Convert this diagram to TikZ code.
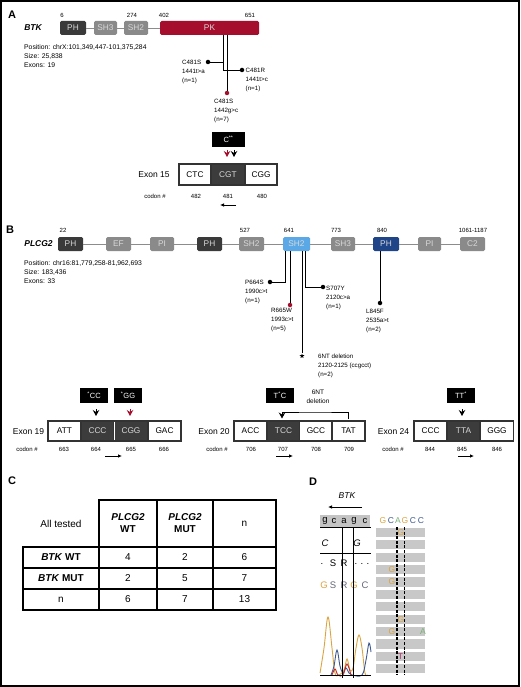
\documentclass[tikz,border=0pt]{standalone}
\usepackage{fontspec}
\setmainfont{Liberation Sans}
\usetikzlibrary{arrows.meta,shapes.geometric}

\definecolor{domdark}{HTML}{3A3A3A}
\definecolor{domgrey}{HTML}{8A8A8A}
\definecolor{pkred}{HTML}{A50E2D}
\definecolor{sh2blue}{HTML}{5AA9E6}
\definecolor{phnavy}{HTML}{1F4488}
\definecolor{linkgrey}{HTML}{8C8C8C}
\definecolor{codondark}{HTML}{3C3C3C}
\definecolor{seqgrey}{HTML}{C4C4C4}
\definecolor{rowgrey}{HTML}{C8C8C8}
\definecolor{basegold}{HTML}{D9A441}
\definecolor{baseblue}{HTML}{3E5B8F}
\definecolor{basegreen}{HTML}{7AB07A}
\definecolor{basered}{HTML}{C0282A}
\definecolor{basepink}{HTML}{B0306A}
\definecolor{baseslate}{HTML}{66667A}

\tikzset{
  dombox/.style={shape=rectangle, rounded corners=1.5pt, minimum width=25pt, minimum height=14pt, inner sep=0pt, text=white!85!black, font=\fontsize{8.3}{8}\selectfont},
  dark/.style={dombox, fill=domdark},
  grey/.style={dombox, fill=domgrey},
  link/.style={draw=linkgrey, line width=0.9pt},
  num/.style={font=\fontsize{6}{6}\selectfont, inner sep=0pt},
  info/.style={align=left, anchor=north west, inner sep=0pt, font=\fontsize{6.8}{9}\selectfont},
  mut/.style={align=left, anchor=north west, inner sep=0pt, font=\fontsize{6.2}{9}\selectfont},
  stem/.style={draw=black, line width=0.9pt},
  dot/.style={shape=circle, fill=black, minimum size=4.5pt, inner sep=0pt},
  reddot/.style={dot, fill=pkred},
  tag/.style={fill=black, text=white, minimum width=28pt, minimum height=15pt, inner sep=0pt, font=\fontsize{7.5}{8}\selectfont},
  codon/.style={draw=black!80, line width=1.2pt, fill=white, minimum width=33pt, minimum height=20pt, inner sep=0pt, font=\fontsize{8.3}{9}\selectfont},
  hot/.style={codon, fill=codondark, text=white!85!black},
  exon/.style={font=\fontsize{8.5}{9}\selectfont, inner sep=0pt},
  cnum/.style={font=\fontsize{6}{6}\selectfont, inner sep=0pt},
  vtip/.style={-{Stealth[length=6pt,width=6.5pt,inset=2pt]}, line width=0.8pt},
  sense/.style={-{Latex[length=4pt,width=3.6pt]}, line width=0.8pt},
  panel/.style={font=\fontsize{11}{11}\selectfont\bfseries, inner sep=0pt},
  gene/.style={font=\fontsize{8.5}{9}\selectfont\bfseries\itshape, inner sep=0pt},
  cell/.style={draw=black, line width=1.3pt, minimum height=21pt, inner sep=0pt, align=center, font=\fontsize{10}{12}\selectfont},
  seq/.style={inner sep=0pt, font=\fontsize{9.5}{9}\selectfont},
  read/.style={inner sep=0pt, font=\fontsize{8.5}{8}\selectfont},
}

\begin{document}
\begin{tikzpicture}[x=1pt,y=-1pt]
    \useasboundingbox (0,0) rectangle (520,687);
    \draw[line width=1.6pt] (1,1) rectangle (519,686);

    % panel A: BTK
    \node[panel] (A) at (12,15) {A};
    \node[gene] (btk) at (33,28) {BTK};
    \node[num] (a6) at (62,15) {6};
    \node[num] (a274) at (132,15) {274};
    \node[num] (a402) at (164,15) {402};
    \node[num] (a651) at (250,15) {651};
    \node[dark, minimum width=26pt] (aph) at (73,28) {PH};
    \node[grey, minimum width=23pt] (ash3) at (105.5,28) {SH3};
    \node[grey, minimum width=24pt] (ash2) at (136,28) {SH2};
    \node[dombox, fill=pkred, minimum width=99pt] (apk) at (209.5,28) {PK};
    \draw[link] (aph) -- (ash3);
    \draw[link] (ash3) -- (ash2);
    \draw[link] (ash2) -- (apk);
    \node[info] (apos) at (24,44.5) {Position: chrX:101,349,447-101,375,284\\Size: 25,838\\Exons: 19};

    \node[dot] (m1) at (208,62) {};
    \node[dot] (m2) at (242,70) {};
    \node[reddot] (m3) at (227,93) {};
    \coordinate (as1) at (223,35);
    \coordinate (as2) at (227,35);
    \draw[stem] (as1) |- (m2);
    \draw[stem] (m1) -- (m1 -| as1);
    \draw[stem] (as2) -- (m3);
    \node[mut] (lm1) at (182,59.7) {C481S\\1441t>a\\(n=1)};
    \node[mut] (lm2) at (245.5,67.7) {C481R\\1441t>c\\(n=1)};
    \node[mut] (lm3) at (214,98.7) {C481S\\1442g>c\\(n=7)};

    \node[tag, minimum width=33pt] (tagA) at (228.5,139.5) {C\textsuperscript{**}};
    \coordinate (tipA1) at (227,150);
    \coordinate (tipA2) at (234,150);
    \draw[vtip, draw=pkred, fill=pkred] (tipA1) -- ++(0,7);
    \draw[vtip] (tipA2) -- ++(0,7);
    \node[exon] (ex15) at (154,175) {Exon 15};
    \node[codon, minimum width=32pt, minimum height=21pt] (c482) at (195,174.5) {CTC};
    \node[hot, minimum width=34pt, minimum height=21pt] (c481) at (228,174.5) {CGT};
    \node[codon, minimum width=32pt, minimum height=21pt] (c480) at (261,174.5) {CGG};
    \node[cnum] (cA) at (155,196) {codon \#};
    \node[cnum] (n482) at (196,196) {482};
    \node[cnum] (n481) at (228,196) {481};
    \node[cnum] (n480) at (262,196) {480};
    \coordinate (arA1) at (236,205);
    \coordinate (arA2) at (220,205);
    \draw[sense] (arA1) -- (arA2);

    % panel B: PLCG2
    \node[panel] (B) at (10,230) {B};
    \node[gene] (plcg) at (38.5,243.5) {PLCG2};
    \node[num] (b22) at (63,230) {22};
    \node[num] (b527) at (245,230) {527};
    \node[num] (b641) at (289,230) {641};
    \node[num] (b773) at (336,230) {773};
    \node[num] (b840) at (382,230) {840};
    \node[num] (b1061) at (473,230) {1061-1187};
    \node[dark] (bph1) at (70.5,244) {PH};
    \node[grey] (bef) at (118.5,244) {EF};
    \node[grey, minimum width=24pt] (bpi1) at (162,244) {PI};
    \node[dark] (bph2) at (209.5,244) {PH};
    \node[grey] (bsh2a) at (251.5,244) {SH2};
    \node[dombox, fill=sh2blue, minimum width=27pt] (bsh2b) at (296.5,244) {SH2};
    \node[grey, minimum width=24pt] (bsh3) at (343,244) {SH3};
    \node[dombox, fill=phnavy, minimum width=26pt] (bph3) at (386,244) {PH};
    \node[grey, minimum width=23pt] (bpi2) at (429.5,244) {PI};
    \node[grey] (bc2) at (472.5,244) {C2};
    \draw[link] (bph1) -- (bef);
    \draw[link] (bef) -- (bpi1);
    \draw[link] (bpi1) -- (bph2);
    \draw[link] (bph2) -- (bsh2a);
    \draw[link] (bsh2a) -- (bsh2b);
    \draw[link] (bsh2b) -- (bsh3);
    \draw[link] (bsh3) -- (bph3);
    \draw[link] (bph3) -- (bpi2);
    \draw[link] (bpi2) -- (bc2);
    \node[info] (bpos) at (24,260.5) {Position: chr16:81,779,258-81,962,693\\Size: 183,436\\Exons: 33};

    \node[dot] (d664) at (270,282) {};
    \node[reddot] (d665) at (290,305) {};
    \node[dot] (d707) at (323,287) {};
    \node[dot] (d845) at (380,303) {};
    \node[star, star points=5, star point ratio=2.3, fill=black, minimum size=5pt, inner sep=0pt] (ddel) at (302,356) {};
    \coordinate (bs1) at (285,251);
    \coordinate (bs2) at (290,251);
    \coordinate (bs3) at (302,251);
    \coordinate (bs4) at (305.5,251);
    \coordinate (bs5) at (380,251);
    \draw[stem] (bs1) |- (d664);
    \draw[stem] (bs2) -- (d665);
    \draw[stem] (bs3) -- (ddel);
    \draw[stem] (bs4) |- (d707);
    \draw[stem] (bs5) -- (d845);
    \node[mut] (l664) at (245,279.7) {P664S\\1990c>t\\(n=1)};
    \node[mut] (l665) at (271,307.7) {R665W\\1993c>t\\(n=5)};
    \node[mut] (l707) at (326,285.7) {S707Y\\2120c>a\\(n=1)};
    \node[mut] (l845) at (366,308.7) {L845F\\2535a>t\\(n=2)};
    \node[mut] (ldel) at (318,353.7) {6NT deletion\\2120-2125 (ccgcct)\\(n=2)};

    % exons 19, 20, 24
    \node[tag] (tag19a) at (94,395.5) {\textsuperscript{*}CC};
    \node[tag] (tag19b) at (128,395.5) {\textsuperscript{*}GG};
    \node[tag] (tag20) at (280,395.5) {T\textsuperscript{*}C};
    \node[tag] (tag24) at (461,395.5) {TT\textsuperscript{*}};
    \coordinate (tip19a) at (96,409);
    \coordinate (tip19b) at (130,409);
    \coordinate (tip24) at (462,409);
    \draw[vtip] (tip19a) -- ++(0,7);
    \draw[vtip, draw=pkred, fill=pkred] (tip19b) -- ++(0,7);
    \draw[vtip] (tip24) -- ++(0,7);
    \coordinate (del20r) at (348,419);
    \coordinate (del20m) at (315,412);
    \coordinate (del20l) at (282,418.5);
    \draw[vtip] (del20r) |- (del20m) -| (del20l);
    \node[mut, anchor=center, align=center, font=\fontsize{6.5}{9}\selectfont] (del20t) at (318,396.5) {6NT\\deletion};

    \node[exon] (ex19) at (28.5,432) {Exon 19};
    \node[codon] (c663) at (64.5,431) {ATT};
    \node[hot] (c664) at (97.5,431) {CCC};
    \node[hot] (c665) at (131,431) {CGG};
    \node[codon] (c666) at (164.5,431) {GAC};
    \draw[white, line width=0.8pt] ([yshift=-1.2pt]c664.north east) -- ([yshift=1.2pt]c664.south east);
    \node[exon] (ex20) at (214,432) {Exon 20};
    \node[codon] (c706) at (250.5,431) {ACC};
    \node[hot] (c707) at (283.5,431) {TCC};
    \node[codon] (c708) at (316,431) {GCC};
    \node[codon] (c709) at (348.5,431) {TAT};
    \node[exon] (ex24) at (393.5,432) {Exon 24};
    \node[codon] (c844) at (430.5,431) {CCC};
    \node[hot] (c845) at (463.5,431) {TTA};
    \node[codon] (c846) at (497,431) {GGG};

    \node[cnum] (c19) at (27,449) {codon \#};
    \node[cnum] (n663) at (64,449) {663};
    \node[cnum] (n664) at (96,449) {664};
    \node[cnum] (n665) at (131,449) {665};
    \node[cnum] (n666) at (164,449) {666};
    \node[cnum] (c20) at (217,449) {codon \#};
    \node[cnum] (n706) at (251,449) {706};
    \node[cnum] (n707) at (283,449) {707};
    \node[cnum] (n708) at (316,449) {708};
    \node[cnum] (n709) at (349,449) {709};
    \node[cnum] (c24) at (393,449) {codon \#};
    \node[cnum] (n844) at (430,449) {844};
    \node[cnum] (n845) at (462,449) {845};
    \node[cnum] (n846) at (497,449) {846};
    \coordinate (ar19a) at (105,456);
    \coordinate (ar19b) at (122,456);
    \coordinate (ar20a) at (276,456);
    \coordinate (ar20b) at (293,456);
    \coordinate (ar24a) at (458,456);
    \coordinate (ar24b) at (474,456);
    \draw[sense] (ar19a) -- (ar19b);
    \draw[sense] (ar20a) -- (ar20b);
    \draw[sense] (ar24a) -- (ar24b);

    % panel C: table
    \node[panel] (C) at (12,481) {C};
    \node[cell, draw=none, minimum width=76pt, minimum height=47pt] (tall) at (61,523.5) {All tested};
    \node[cell, minimum width=58pt, minimum height=47pt] (twt) at (128,523.5) {\textbf{\textit{PLCG2}}\\\textbf{WT}};
    \node[cell, minimum width=56pt, minimum height=47pt] (tmut) at (185,523.5) {\textbf{\textit{PLCG2}}\\\textbf{MUT}};
    \node[cell, minimum width=63pt, minimum height=47pt] (tn) at (244.5,523.5) {n};
    \node[cell, minimum width=76pt] (r1) at (61,557.5) {\textbf{\textit{BTK} WT}};
    \node[cell, minimum width=58pt] (r1a) at (128,557.5) {4};
    \node[cell, minimum width=56pt] (r1b) at (185,557.5) {2};
    \node[cell, minimum width=63pt] (r1n) at (244.5,557.5) {6};
    \node[cell, minimum width=76pt] (r2) at (61,578.5) {\textbf{\textit{BTK} MUT}};
    \node[cell, minimum width=58pt] (r2a) at (128,578.5) {2};
    \node[cell, minimum width=56pt] (r2b) at (185,578.5) {5};
    \node[cell, minimum width=63pt] (r2n) at (244.5,578.5) {7};
    \node[cell, minimum width=76pt] (r3) at (61,599.5) {n};
    \node[cell, minimum width=58pt] (r3a) at (128,599.5) {6};
    \node[cell, minimum width=56pt] (r3b) at (185,599.5) {7};
    \node[cell, minimum width=63pt] (r3n) at (244.5,599.5) {13};

    % panel D: sequencing
    \node[panel] (D) at (313,482) {D};
    \node[seq, font=\fontsize{8.5}{9}\selectfont\itshape] (dbtk) at (347,496) {BTK};
    \coordinate (darr1) at (362,507);
    \coordinate (darr2) at (328,507);
    \draw[sense, line width=1pt] (darr1) -- (darr2);
    \node[fill=seqgrey, minimum width=50pt, minimum height=12pt, inner sep=0pt] (seqbox) at (345,521) {};
    \node[seq] (g1) at (325,520.5) {g};
    \node[seq] (g2) at (334,520.5) {c};
    \node[seq] (g3) at (344,520.5) {a};
    \node[seq] (g4) at (354,520.5) {g};
    \node[seq] (g5) at (365,520.5) {c};
    \coordinate (dh1a) at (320,527);
    \coordinate (dh1b) at (371,527);
    \coordinate (dh2a) at (320,553);
    \coordinate (dh2b) at (371,553);
    \draw[line width=1pt] (dh1a) -- (dh1b);
    \draw[line width=1pt] (dh2a) -- (dh2b);
    \node[seq, font=\fontsize{9.5}{9}\selectfont\itshape] (wc) at (325,543) {C};
    \node[seq, font=\fontsize{9.5}{9}\selectfont\itshape] (wg) at (357,543) {G};
    \node[seq] (p1) at (322,564) {.};
    \node[seq] (p2) at (333,563) {S};
    \node[seq] (p3) at (344,563) {R};
    \node[seq] (p4) at (356,564) {.};
    \node[seq] (p5) at (362,564) {.};
    \node[seq] (p6) at (368,564) {.};
    \node[seq, text=basegold] (q1) at (324,585) {G};
    \node[seq, text=baseslate] (q2) at (333,585) {S};
    \node[seq, text=baseslate] (q3) at (344,585) {R};
    \node[seq, text=basegold] (q4) at (354,585) {G};
    \node[seq, text=baseslate] (q5) at (365,585) {C};

    % chromatogram
    \draw[basegold, line width=0.9pt] plot[smooth, tension=0.6] coordinates {(320,673) (324,648) (328,617) (332,648) (335,673) (339,675) (344,670) (347,659) (350,670) (353,668) (356,648) (359,635) (362,648) (365,673) (368,675)};
    \draw[baseblue, line width=0.9pt] plot[smooth, tension=0.6] coordinates {(331,675) (334,666) (337,650) (340,666) (343,673) (346,668) (349,673) (352,675) (362,675) (366,660) (369,643) (371,652)};
    \draw[basered, line width=0.9pt] plot[smooth, tension=0.6] coordinates {(332,675) (335,669) (338,675) (343,675) (347,664) (351,675)};
    \coordinate (cb1) at (320,675);
    \coordinate (cb2) at (371,675);
    \draw[line width=0.9pt] (cb1) -- (cb2);
    \coordinate (dv1t) at (342.5,527);
    \coordinate (dv1b) at (342.5,678);
    \coordinate (dv2t) at (353,527);
    \coordinate (dv2b) at (353,678);
    \draw[line width=0.9pt] (dv1t) -- (dv1b);
    \draw[line width=0.9pt] (dv2t) -- (dv2b);

    % reads
    \node[read, text=basegold] (h1) at (383,521) {G};
    \node[read, text=baseblue] (h2) at (391,521) {C};
    \node[read, text=basegreen] (h3) at (398,521) {A};
    \node[read, text=basegold] (h4) at (405,521) {G};
    \node[read, text=baseblue] (h5) at (413,521) {C};
    \node[read, text=baseblue] (h6) at (421,521) {C};
    \foreach \i in {0,...,11}
        \fill[rowgrey] (376,527.7+12.4*\i) rectangle ++(49,9.3);
    \coordinate (rd1t) at (397,527);
    \coordinate (rd1b) at (397,675);
    \coordinate (rd2t) at (404.5,527);
    \coordinate (rd2b) at (404.5,675);
    \draw[line width=1.2pt, dash pattern=on 3pt off 1.6pt] (rd1t) -- (rd1b);
    \draw[line width=1.2pt, dash pattern=on 3pt off 1.6pt] (rd2t) -- (rd2b);
    \node[read, text=basegold] (v1) at (401,532.3) {G};
    \node[read, text=basegold] (v2) at (392,569.5) {G};
    \node[read, text=basegold] (v3) at (392,581.9) {G};
    \node[read, text=basegold] (v4) at (401,619.1) {G};
    \node[read, text=basegold] (v5) at (392,631.5) {G};
    \node[read, text=basegreen] (v6) at (423,631.5) {A};
    \node[read, text=basepink] (v7) at (400.5,656.3) {T};
\end{tikzpicture}
\end{document}
